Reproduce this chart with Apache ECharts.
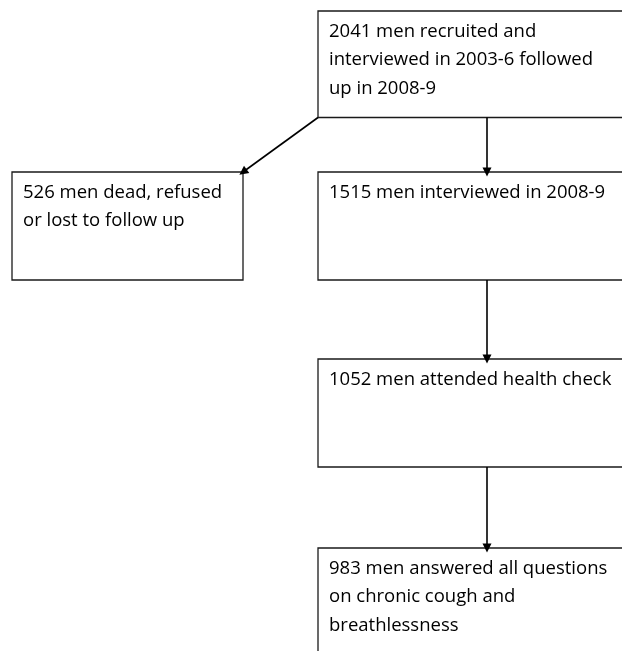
<!DOCTYPE html>
<html>
<head>
<meta charset="utf-8">
<script src="https://cdn.jsdelivr.net/npm/echarts@6/dist/echarts.min.js"></script>
<style>html,body{margin:0;padding:0;background:#fff;}#main{width:622px;height:651px;}</style>
</head>
<body>
<div id="main"></div>
<script>
// Flow stages: counts and descriptions
const counts = [2041, 526, 1515, 1052, 983];
const descriptions = [
  'men recruited and\ninterviewed in 2003-6 followed\nup in 2008-9',
  'men dead, refused\nor lost to follow up',
  'men interviewed in 2008-9',
  'men attended health check',
  'men answered all questions\non chronic cough and\nbreathlessness'
];
// Flow links (from stage index -> to stage index)
const linkFrom = [0, 0, 2, 3];
const linkTo   = [1, 2, 3, 4];

// Layout (pixel space of the hidden axes)
const layout = [
  [318, 11, 650, 117.5],
  [12, 172, 243, 280],
  [318, 172, 650, 280],
  [318, 359, 650, 467],
  [318, 548, 650, 680]
];
const stemX = 487;

const boxData = counts.map((c, i) => ({
  value: layout[i],
  text: c + ' ' + descriptions[i]
}));

const linkData = linkFrom.map((f, k) => {
  const a = layout[f], b = layout[linkTo[k]];
  let coords;
  if (b[0] < a[0]) {
    coords = [[a[0], a[3]], [b[2], b[1]]];
  } else {
    coords = [[stemX, a[3]], [stemX, b[1]]];
  }
  return { coords };
});

const chart = echarts.init(document.getElementById('main'), null, {renderer: 'canvas'});
chart.setOption({
  backgroundColor: '#ffffff',
  animation: false,
  grid: {left: 0, right: 0, top: 0, bottom: 0},
  xAxis: {type: 'value', min: 0, max: 622, show: false},
  yAxis: {type: 'value', min: 0, max: 651, inverse: true, show: false},
  series: [
    {
      type: 'custom',
      coordinateSystem: 'cartesian2d',
      clip: false,
      data: boxData,
      encode: {x: [0, 2], y: [1, 3]},
      renderItem: function (params, api) {
        const p0 = api.coord([api.value(0), api.value(1)]);
        const p1 = api.coord([api.value(2), api.value(3)]);
        const item = boxData[params.dataIndex];
        return {
          type: 'group',
          children: [
            {
              type: 'rect',
              shape: {x: p0[0], y: p0[1], width: p1[0] - p0[0], height: p1[1] - p0[1]},
              style: {fill: '#ffffff', stroke: '#1a1a1a', lineWidth: 1.3}
            },
            {
              type: 'text',
              x: p0[0] + 11,
              y: p0[1] + 6,
              style: {
                text: item.text,
                fill: '#000000',
                font: '18.5px "Open Sans"',
                lineHeight: 28.5,
                verticalAlign: 'top',
                align: 'left'
              }
            }
          ]
        };
      }
    },
    {
      type: 'lines',
      coordinateSystem: 'cartesian2d',
      symbol: ['none', 'triangle'],
      symbolSize: [8, 9],
      lineStyle: {color: '#000000', width: 1.6, opacity: 1, curveness: 0},
      data: linkData,
      z: 3
    }
  ]
});
</script>
</body>
</html>
